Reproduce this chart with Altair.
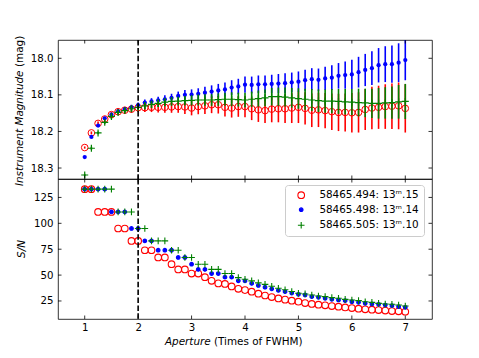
import altair as alt
import pandas as pd

# ---------------- data ----------------
aperture = [1.0, 1.125, 1.25, 1.375, 1.5, 1.625, 1.75, 1.875, 2.0, 2.125, 2.25, 2.375,
            2.5, 2.625, 2.75, 2.875, 3.0, 3.125, 3.25, 3.375, 3.5, 3.625, 3.75, 3.875,
            4.0, 4.125, 4.25, 4.375, 4.5, 4.625, 4.75, 4.875, 5.0, 5.125, 5.25, 5.375,
            5.5, 5.625, 5.75, 5.875, 6.0, 6.125, 6.25, 6.375, 6.5, 6.625, 6.75, 6.875, 7.0]

series_labels = ["58465.494: 13ᵐ.15", "58465.498: 13ᵐ.14", "58465.505: 13ᵐ.10"]

mag_494 = [18.244, 18.204, 18.178, 18.166, 18.154, 18.146, 18.142, 18.139, 18.135, 18.135,
           18.134, 18.134, 18.134, 18.133, 18.132, 18.133, 18.136, 18.132, 18.130, 18.127,
           18.127, 18.134, 18.136, 18.132, 18.132, 18.138, 18.141, 18.143, 18.139, 18.138,
           18.138, 18.136, 18.134, 18.137, 18.142, 18.141, 18.143, 18.146, 18.148, 18.148,
           18.149, 18.148, 18.140, 18.136, 18.134, 18.132, 18.131, 18.130, 18.137]
err_494 = [0.003, 0.004, 0.005, 0.006, 0.007, 0.008, 0.009, 0.010, 0.011, 0.012,
           0.013, 0.014, 0.015, 0.016, 0.017, 0.019, 0.020, 0.021, 0.022, 0.023,
           0.024, 0.025, 0.026, 0.028, 0.029, 0.031, 0.033, 0.034, 0.036, 0.037,
           0.039, 0.041, 0.043, 0.044, 0.046, 0.047, 0.048, 0.050, 0.051, 0.052,
           0.054, 0.055, 0.056, 0.058, 0.059, 0.061, 0.062, 0.064, 0.066]

mag_498 = [18.270, 18.215, 18.184, 18.164, 18.154, 18.145, 18.139, 18.134, 18.128, 18.121,
           18.118, 18.115, 18.112, 18.108, 18.103, 18.100, 18.099, 18.097, 18.094, 18.091,
           18.088, 18.085, 18.080, 18.077, 18.072, 18.073, 18.071, 18.071, 18.070, 18.069,
           18.068, 18.066, 18.064, 18.060, 18.057, 18.059, 18.055, 18.053, 18.048, 18.046,
           18.044, 18.038, 18.032, 18.027, 18.019, 18.016, 18.016, 18.012, 18.005]
err_498 = [0.002, 0.003, 0.003, 0.004, 0.005, 0.005, 0.006, 0.007, 0.007, 0.008,
           0.009, 0.010, 0.011, 0.011, 0.012, 0.013, 0.014, 0.015, 0.016, 0.017,
           0.018, 0.019, 0.020, 0.021, 0.022, 0.023, 0.024, 0.024, 0.025, 0.026,
           0.027, 0.027, 0.028, 0.029, 0.030, 0.031, 0.032, 0.034, 0.035, 0.037,
           0.040, 0.042, 0.044, 0.046, 0.047, 0.049, 0.051, 0.053, 0.055]

mag_505 = [18.319, 18.246, 18.204, 18.175, 18.159, 18.148, 18.143, 18.138, 18.134, 18.130,
           18.126, 18.123, 18.120, 18.118, 18.117, 18.116, 18.115, 18.114, 18.114, 18.114,
           18.113, 18.112, 18.112, 18.113, 18.114, 18.112, 18.110, 18.108, 18.105, 18.105,
           18.106, 18.108, 18.110, 18.112, 18.114, 18.116, 18.117, 18.117, 18.118, 18.119,
           18.120, 18.121, 18.122, 18.123, 18.123, 18.122, 18.121, 18.119, 18.118]
err_505 = [0.003, 0.004, 0.004, 0.005, 0.006, 0.006, 0.007, 0.008, 0.008, 0.009,
           0.010, 0.010, 0.011, 0.012, 0.012, 0.013, 0.014, 0.015, 0.016, 0.016,
           0.017, 0.018, 0.019, 0.019, 0.020, 0.021, 0.022, 0.023, 0.024, 0.025,
           0.026, 0.027, 0.028, 0.029, 0.030, 0.031, 0.032, 0.033, 0.034, 0.035,
           0.036, 0.038, 0.039, 0.040, 0.042, 0.043, 0.044, 0.046, 0.048]

sn_494 = [133, 133, 111, 111, 111, 95, 95, 83, 83, 74, 74, 67, 67, 60.5, 55.5, 55.5,
          51.5, 51.5, 48, 44.5, 42, 41.5, 39, 36.8, 35.5, 34.0, 32.0, 30.3, 28.8, 27.5,
          26.3, 25.3, 24.3, 23.0, 22.1, 21.4, 20.8, 20.1, 19.5, 18.8, 18.2, 17.6, 17.0,
          16.6, 16.2, 15.8, 15.3, 15.0, 14.6]
sn_498 = [133, 133, 133, 133, 111, 111, 111, 95, 95, 83, 83, 74, 74, 74, 67, 67,
          60.5, 55.5, 55.5, 51.5, 51.5, 48, 48, 44.5, 44.4, 42, 40, 38.3, 36.7, 35.2,
          34.0, 32.7, 31.5, 30.8, 29.2, 28.6, 27.6, 26.6, 26.0, 25.3, 24.3, 23.7, 22.7,
          22.1, 21.8, 21.1, 20.5, 19.5, 18.9]
sn_505 = [133, 133, 133, 133, 133, 111, 111, 111, 95, 95, 83, 83, 83, 74, 74, 67,
          67, 60.5, 60.5, 55.5, 55.5, 51.5, 51.5, 47.6, 46.0, 44.4, 42.5, 41.0, 39.2, 37.3,
          35.8, 34.2, 32.4, 31.8, 30.8, 29.8, 29.2, 28.2, 27.6, 26.6, 26.0, 25.3, 24.3,
          23.7, 22.7, 22.1, 21.8, 21.1, 20.1]

x_ticks = [1, 2, 3, 4, 5, 6, 7]
mag_ticks = [18.0, 18.1, 18.2, 18.3]
sn_ticks = [25, 50, 75, 100, 125]
cut_aperture = [2]

# ---------------- build table ----------------
rows = []
for lab, m_arr, e_arr, s_arr in zip(series_labels, [mag_494, mag_498, mag_505],
                                    [err_494, err_498, err_505], [sn_494, sn_498, sn_505]):
    for a, m, e, s in zip(aperture, m_arr, e_arr, s_arr):
        rows.append({"series": lab, "ap": a, "mag": m, "lo": m - e, "hi": m + e, "sn": s})
df = pd.DataFrame(rows)

W, H1, H2 = 374, 139, 140
FONT = "DejaVu Sans"
FS = 10.2
TICK = 3.5
PLUS = "M-1,0L1,0M0,-1L0,1"
DOT = "M-0.55,0A0.55,0.55 0 1,0 0.55,0A0.55,0.55 0 1,0 -0.55,0Z"
COLORS = ["red", "blue", "green"]

xs = alt.Scale(domain=[0.5, 7.5], nice=False, zero=False)
ys_top = alt.Scale(domain=[17.95, 18.33], reverse=True, nice=False, zero=False)
ys_bot = alt.Scale(domain=[7.6, 142.8], nice=False, zero=False)

yaxis_top = alt.Axis(values=mag_ticks, format=".1f", ticks=False, tickSize=0, domain=False,
                     grid=False, labelPadding=5, title=None)
yaxis_bot = alt.Axis(values=sn_ticks, format="d", ticks=False, tickSize=0, domain=False,
                     grid=False, labelPadding=5, title=None)
xaxis_bot = alt.Axis(values=x_ticks, format="d", ticks=False, tickSize=0, domain=False,
                     grid=False, labelPadding=3, title=None)


def inner_ticks(yscale, yaxis, xaxis, yvals, h):
    xt = pd.DataFrame({"v": x_ticks})
    yt = pd.DataFrame({"v": yvals})
    base_rule = dict(color="black", strokeWidth=0.8)
    left = alt.Chart(yt).mark_rule(**base_rule).encode(
        y=alt.Y("v:Q", scale=yscale, axis=yaxis), x=alt.value(0), x2=alt.value(TICK))
    right = alt.Chart(yt).mark_rule(**base_rule).encode(
        y=alt.Y("v:Q", scale=yscale, axis=yaxis), x=alt.value(W - TICK), x2=alt.value(W))
    top = alt.Chart(xt).mark_rule(**base_rule).encode(
        x=alt.X("v:Q", scale=xs, axis=xaxis), y=alt.value(0), y2=alt.value(TICK))
    bottom = alt.Chart(xt).mark_rule(**base_rule).encode(
        x=alt.X("v:Q", scale=xs, axis=xaxis), y=alt.value(h - TICK), y2=alt.value(h))
    return [left, right, top, bottom]


def dashed(h, xaxis):
    return alt.Chart(pd.DataFrame({"ap": cut_aperture})).mark_rule(
        color="black", strokeWidth=1.6, strokeDash=[5.5, 2.4]).encode(
        x=alt.X("ap:Q", scale=xs, axis=xaxis), y=alt.value(0), y2=alt.value(h))


def label(text, x, y, align, italic=False, angle=0):
    kw = dict(align=align, baseline="middle", font=FONT, fontSize=10.4, color="black")
    if italic:
        kw["fontStyle"] = "italic"
    if angle:
        kw["angle"] = angle
    return alt.Chart(pd.DataFrame({"t": [text]})).mark_text(**kw).encode(
        text="t:N", x=alt.value(x), y=alt.value(y))


# ---------------- top panel ----------------
top_layers = []
marker_styles = [
    dict(shape="circle", filled=False, color="red", size=44, strokeWidth=1.0, opacity=1),
    dict(shape="circle", filled=True, color="blue", size=18, opacity=1),
    dict(shape=PLUS, filled=False, color="green", size=49, strokeWidth=1.2, opacity=1),
]
for k, (lab, col) in enumerate(zip(series_labels, COLORS)):
    sub = alt.Chart(df).transform_filter(alt.datum.series == lab)
    bars = sub.mark_rule(color=col, strokeWidth=1.6, clip=True).encode(
        x=alt.X("ap:Q", scale=xs, axis=None),
        y=alt.Y("lo:Q", scale=ys_top, axis=yaxis_top),
        y2="hi:Q")
    pts = sub.mark_point(clip=True, **marker_styles[k]).encode(
        x=alt.X("ap:Q", scale=xs, axis=None),
        y=alt.Y("mag:Q", scale=ys_top, axis=yaxis_top))
    top_layers += [bars, pts]

top_layers.append(dashed(H1, None))
top_layers += inner_ticks(ys_top, yaxis_top, None, mag_ticks, H1)
top_layers.append(label("Instrument Magnitude", -38, 30.5, "right", italic=True, angle=270))
top_layers.append(label("(mag)", -38, 27, "left", angle=270))
top = alt.layer(*top_layers).properties(width=W, height=H1)

# ---------------- bottom panel ----------------
legend = alt.Legend(orient="none", legendX=227, legendY=H1 + 6, title=None,
                    labelFont=FONT, labelFontSize=10.4, labelColor="black",
                    strokeColor="#cccccc", fillColor="rgba(255,255,255,0.8)",
                    cornerRadius=3, padding=5, rowPadding=3.5, symbolOffset=6,
                    labelOffset=13, symbolStrokeWidth=1.1, symbolSize=44)
dom = series_labels
sn_pts = alt.Chart(df).mark_point(opacity=1, strokeWidth=1.1, size=44).encode(
    x=alt.X("ap:Q", scale=xs, axis=xaxis_bot),
    y=alt.Y("sn:Q", scale=ys_bot, axis=yaxis_bot),
    stroke=alt.Stroke("series:N", scale=alt.Scale(domain=dom, range=COLORS), legend=legend),
    fill=alt.Fill("series:N", scale=alt.Scale(domain=dom, range=["transparent", "blue", "transparent"]),
                  legend=legend),
    shape=alt.Shape("series:N", scale=alt.Scale(domain=dom, range=["circle", DOT, PLUS]),
                    legend=legend),
)

bot_layers = [sn_pts, dashed(H2, xaxis_bot)] + inner_ticks(ys_bot, yaxis_bot, xaxis_bot, sn_ticks, H2)
bot_layers.append(label("S/N", -35.6, H2 / 2, "center", italic=True, angle=270))
bot_layers.append(label("Aperture", 152.7, H2 + 22.7, "right", italic=True))
bot_layers.append(label("(Times of FWHM)", 156, H2 + 22.7, "left"))
bottom = alt.layer(*bot_layers).properties(width=W, height=H2)

chart = alt.vconcat(top, bottom, spacing=0, bounds="flush").properties(
    padding={"left": 6, "top": 27, "right": 5, "bottom": 5}
).configure_view(stroke="black", strokeWidth=0.8).configure_axis(
    labelFont=FONT, labelFontSize=FS, labelColor="black"
)

chart.save("out.html", embed_options={"renderer": "svg", "actions": False})
